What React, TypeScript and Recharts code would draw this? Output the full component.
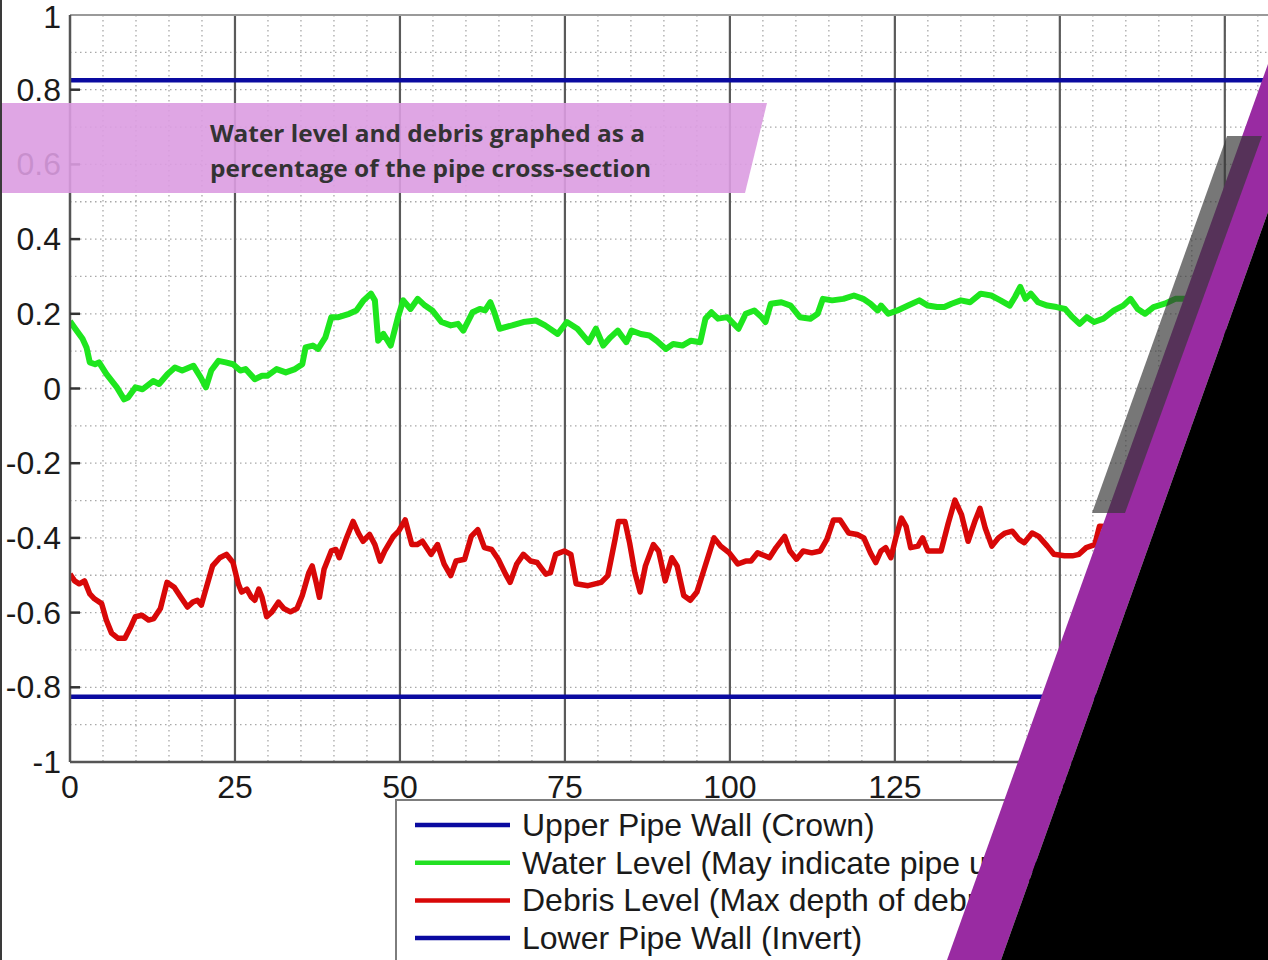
import React from 'react';
import { LineChart, Line, XAxis, YAxis, CartesianGrid, ReferenceLine } from 'recharts';

// [distance, level]
const WATER_LEVEL: [number, number][] = [
  [0, 0.18], [0.8, 0.16], [1.9, 0.133], [2.5, 0.11], [3, 0.07], [3.8, 0.065], [4.4, 0.07], [5.5, 0.039],
  [7.1, 0.003], [8.2, -0.029], [8.8, -0.024], [9.9, 0.003], [11, -0.002], [12.6, 0.02], [13.5, 0.012],
  [14.8, 0.039], [15.9, 0.056], [17, 0.048], [18.7, 0.061], [19.8, 0.03], [20.6, 0.003], [21.4, 0.048],
  [22.5, 0.074], [23.6, 0.07], [24.7, 0.065], [25.8, 0.048], [26.6, 0.052], [28, 0.025], [29.1, 0.034],
  [29.9, 0.034], [31.3, 0.052], [32.7, 0.043], [34.1, 0.052], [35.2, 0.065], [35.7, 0.11], [36.8, 0.115],
  [37.6, 0.106], [38.7, 0.137], [39.6, 0.191], [40.7, 0.191], [42.3, 0.2], [43.4, 0.209], [44.5, 0.236],
  [45.6, 0.254], [46.2, 0.236], [46.7, 0.128], [47.5, 0.146], [48.6, 0.115], [49.7, 0.191], [50.5, 0.236],
  [51.6, 0.213], [52.7, 0.24], [53.8, 0.222], [54.9, 0.209], [56.3, 0.178], [57.7, 0.169], [58.8, 0.173],
  [59.6, 0.155], [61, 0.204], [62.1, 0.213], [62.9, 0.209], [63.7, 0.231], [64.3, 0.204], [65.1, 0.16],
  [67, 0.169], [68.7, 0.178], [70.6, 0.182], [72, 0.169], [73.9, 0.146], [75.3, 0.178], [76.9, 0.16],
  [78.6, 0.124], [79.7, 0.16], [80.8, 0.115], [81.9, 0.137], [83, 0.155], [84.3, 0.124], [85.1, 0.155],
  [86.5, 0.146], [87.8, 0.142], [88.9, 0.128], [90.3, 0.106], [91.4, 0.119], [92.8, 0.115], [94.1, 0.128],
  [95.5, 0.124], [96.3, 0.187], [97.2, 0.204], [98.2, 0.187], [99.6, 0.191], [101.3, 0.16], [102.4, 0.2],
  [103.7, 0.209], [104.8, 0.191], [105.4, 0.178], [106.2, 0.227], [107.8, 0.231], [109.2, 0.222],
  [110.6, 0.191], [112.2, 0.187], [113.3, 0.2], [114.1, 0.24], [115.5, 0.236], [117.2, 0.24], [118.8, 0.249],
  [120.2, 0.24], [121.3, 0.227], [122.4, 0.209], [122.9, 0.222], [124, 0.2], [125.4, 0.209], [127, 0.222],
  [128.7, 0.236], [130, 0.222], [131.4, 0.218], [132.5, 0.218], [133.6, 0.227], [135, 0.236], [136.4, 0.231],
  [138, 0.254], [139.6, 0.249], [141, 0.236], [142.4, 0.222], [143.2, 0.245], [144, 0.272], [144.8, 0.24],
  [145.6, 0.254], [146.7, 0.231], [148.1, 0.222], [149.5, 0.218], [150.8, 0.213], [151.9, 0.191],
  [153, 0.173], [154.1, 0.191], [155.2, 0.178], [156.6, 0.187], [158.2, 0.209], [159.6, 0.222],
  [160.7, 0.24], [161.8, 0.213], [162.9, 0.2], [164.2, 0.218], [165.9, 0.227], [167.5, 0.24], [170, 0.24],
];

const DEBRIS_LEVEL: [number, number][] = [
  [0, -0.497], [0.7, -0.515], [1.4, -0.523], [2.2, -0.515], [3, -0.55], [3.7, -0.563], [4.8, -0.576],
  [5.5, -0.62], [6.3, -0.655], [7.3, -0.669], [8.3, -0.669], [9.1, -0.642], [9.9, -0.611], [10.9, -0.607],
  [11.9, -0.62], [12.7, -0.616], [13.7, -0.589], [14.7, -0.519], [15.8, -0.532], [16.8, -0.559],
  [17.8, -0.585], [18.6, -0.572], [19.3, -0.567], [19.9, -0.58], [20.6, -0.537], [21.6, -0.475],
  [22.7, -0.453], [23.7, -0.444], [24.7, -0.466], [25.5, -0.523], [26, -0.545], [26.8, -0.537],
  [27.5, -0.559], [28, -0.567], [28.6, -0.537], [29.1, -0.559], [29.8, -0.611], [30.6, -0.598],
  [31.6, -0.572], [32.4, -0.589], [33.4, -0.598], [34.4, -0.589], [35.2, -0.554], [36.2, -0.493],
  [36.7, -0.475], [37.3, -0.519], [37.8, -0.559], [38.5, -0.484], [39.6, -0.435], [40.3, -0.431],
  [40.8, -0.453], [41.9, -0.4], [42.9, -0.356], [43.7, -0.387], [44.4, -0.409], [45.4, -0.391],
  [46.2, -0.418], [47, -0.462], [47.7, -0.435], [49, -0.396], [49.8, -0.382], [50.8, -0.352],
  [51.8, -0.418], [52.6, -0.418], [53.4, -0.409], [54.7, -0.444], [55.7, -0.418], [56.7, -0.47],
  [57.7, -0.501], [58.5, -0.462], [59.8, -0.457], [60.8, -0.396], [61.8, -0.378], [62.8, -0.426],
  [63.9, -0.431], [64.9, -0.457], [66, -0.497], [66.7, -0.519], [67.7, -0.47], [68.7, -0.444],
  [69.8, -0.462], [70.8, -0.466], [72.1, -0.497], [72.8, -0.493], [73.6, -0.444], [74.9, -0.435],
  [75.9, -0.444], [76.7, -0.523], [78.5, -0.528], [80.5, -0.519], [81.5, -0.501], [82.6, -0.404],
  [83.1, -0.356], [84.1, -0.356], [84.8, -0.413], [85.6, -0.493], [86.4, -0.545], [87.2, -0.475],
  [88.4, -0.418], [89.2, -0.435], [90.2, -0.515], [91.2, -0.453], [92, -0.475], [93, -0.554],
  [94, -0.567], [95, -0.545], [96.1, -0.484], [97.6, -0.4], [98.6, -0.422], [99.9, -0.44], [101.2, -0.47],
  [102.4, -0.462], [103.2, -0.462], [104.2, -0.44], [105.3, -0.448], [106, -0.453], [107, -0.426],
  [108.3, -0.396], [109.1, -0.435], [110.1, -0.457], [111.1, -0.435], [112.4, -0.44], [113.7, -0.435],
  [114.7, -0.404], [115.7, -0.352], [116.7, -0.352], [118, -0.387], [119.3, -0.391], [120.3, -0.4],
  [121.3, -0.44], [122.1, -0.466], [122.9, -0.435], [123.6, -0.426], [124.4, -0.453], [125.2, -0.396],
  [126, -0.347], [126.7, -0.369], [127.4, -0.426], [128.5, -0.422], [129.2, -0.4], [130, -0.435],
  [131, -0.435], [132, -0.435], [133.1, -0.36], [134.1, -0.299], [135.1, -0.338], [136.1, -0.409],
  [137.2, -0.352], [137.9, -0.321], [138.7, -0.374], [139.7, -0.422], [140.7, -0.4], [141.7, -0.387],
  [142.8, -0.382], [143.8, -0.404], [144.6, -0.413], [145.8, -0.387], [146.8, -0.396], [148.1, -0.422],
  [149.1, -0.444], [150.7, -0.448], [151.9, -0.448], [152.9, -0.444], [154, -0.426], [155.3, -0.418],
  [156, -0.369], [158, -0.37],
];

const CROWN = 0.825;
const INVERT = -0.825;
const WALL_SPAN = [0, 182];

const X_TICKS = Array.from({ length: 37 }, (_, i) => i * 5);
const X_MAJOR = [25, 50, 75, 100, 125, 150, 175];
const Y_TICKS = [-1, -0.9, -0.8, -0.7, -0.6, -0.5, -0.4, -0.3, -0.2, -0.1, 0, 0.1, 0.2, 0.3, 0.4, 0.5, 0.6, 0.7, 0.8, 0.9, 1];

const LEGEND_ITEMS = [
  { label: 'Upper Pipe Wall (Crown)', color: '#0a0aa0' },
  { label: 'Water Level (May indicate pipe usage)', color: '#22e022' },
  { label: 'Debris Level (Max depth of debris)', color: '#d80808' },
  { label: 'Lower Pipe Wall (Invert)', color: '#0a0aa0' },
];

const toPoints = (rows: [number, number][]) => rows.map(([x, v]) => ({ x, v }));
const wallPoints = (v: number) => WALL_SPAN.map((x) => ({ x, v }));

const PLOT_LEFT = 70;
const AXIS_FONT = '"Liberation Sans", Arial, sans-serif';

const YTick = ({ x, y, payload }: any) => {
  const v = payload.value as number;
  const tenth = Math.round(v * 10);
  if (tenth % 2 !== 0) return <g />;
  const label = tenth === 0 ? '0' : Math.abs(tenth) === 10 ? String(tenth / 10) : (tenth / 10).toFixed(1);
  return (
    <g>
      {Math.abs(tenth) !== 10 && (
        <line x1={PLOT_LEFT} x2={PLOT_LEFT + 10} y1={y} y2={y} stroke="#333" strokeWidth={2.5} />
      )}
      <text x={x} y={y} dy={tenth === 10 ? 13 : 11} textAnchor="end" fontFamily={AXIS_FONT} fontSize={32} fill="#1a1a1a">
        {label}
      </text>
    </g>
  );
};

const XTick = ({ x, y, payload }: any) => {
  const v = payload.value as number;
  if (v % 25 !== 0) return <g />;
  return (
    <text x={x} y={y} dy={36} textAnchor="middle" fontFamily={AXIS_FONT} fontSize={32} fill="#1a1a1a">
      {v}
    </text>
  );
};

const LegendBox = () => (
  <svg width={720} height={170} style={{ display: 'block' }}>
    <rect x={1} y={1} width={718} height={200} fill="#fff" stroke="#7d7d7d" strokeWidth={2} />
    {LEGEND_ITEMS.map((item, i) => {
      const cy = 26 + i * 37.7;
      return (
        <g key={item.label}>
          <line x1={20} x2={115} y1={cy} y2={cy} stroke={item.color} strokeWidth={4.5} />
          <text x={127} y={cy} dy={11} fontFamily={AXIS_FONT} fontSize={32} fill="#1a1a1a">
            {item.label}
          </text>
        </g>
      );
    })}
  </svg>
);

export default function App() {
  return (
    <div
      style={{
        position: 'absolute',
        left: 0,
        top: 0,
        width: 1268,
        height: 960,
        overflow: 'hidden',
        background: '#fff',
        borderLeft: '2px solid #3a3a3a',
        boxSizing: 'border-box',
      }}
    >
      <div style={{ position: 'absolute', left: -2, top: 0 }}>
        <LineChart width={1290} height={960} margin={{ top: 15, right: 19, bottom: 158, left: 0 }}>
          <CartesianGrid stroke="#a8a8a8" strokeWidth={1.3} strokeDasharray="1.5 3.5" />
          <XAxis
            type="number"
            dataKey="x"
            domain={[0, 182]}
            ticks={X_TICKS}
            interval={0}
            allowDataOverflow
            height={40}
            tickSize={0}
            tickMargin={0}
            tick={<XTick />}
            axisLine={{ stroke: '#555', strokeWidth: 2.5 }}
            tickLine={false}
          />
          <YAxis
            type="number"
            dataKey="v"
            domain={[-1, 1]}
            ticks={Y_TICKS}
            interval={0}
            width={70}
            tickSize={0}
            tickMargin={9}
            tick={<YTick />}
            axisLine={{ stroke: '#555', strokeWidth: 2.5 }}
            tickLine={false}
          />
          {X_MAJOR.map((x) => (
            <ReferenceLine key={x} x={x} stroke="#5a5a5a" strokeWidth={2.2} />
          ))}
          <ReferenceLine y={1} stroke="#9a9a9a" strokeWidth={2} />
          <Line data={wallPoints(CROWN)} dataKey="v" type="linear" stroke="#0a0aa0" strokeWidth={4.5} dot={false} isAnimationActive={false} />
          <Line data={toPoints(WATER_LEVEL)} dataKey="v" type="linear" stroke="#1ee61e" strokeWidth={6} strokeLinejoin="round" dot={false} isAnimationActive={false} />
          <Line data={toPoints(DEBRIS_LEVEL)} dataKey="v" type="linear" stroke="#d80808" strokeWidth={5.5} strokeLinejoin="round" dot={false} isAnimationActive={false} />
          <Line data={wallPoints(INVERT)} dataKey="v" type="linear" stroke="#0a0aa0" strokeWidth={4.5} dot={false} isAnimationActive={false} />
        </LineChart>
      </div>

      <div style={{ position: 'absolute', left: 393, top: 799 }}>
        <LegendBox />
      </div>

      <svg
        width={1268}
        height={960}
        style={{ position: 'absolute', left: -2, top: 0, pointerEvents: 'none' }}
      >
        <polygon points="0,103 767,103 745,193 0,193" fill="rgba(220,156,225,0.9)" />
        <text x={210} y={142} textLength={435} lengthAdjust="spacingAndGlyphs" fontFamily="'Open Sans', Lato, sans-serif" fontWeight={700} fontSize={23} fill="#333">
          Water level and debris graphed as a
        </text>
        <text x={210} y={177} textLength={441} lengthAdjust="spacingAndGlyphs" fontFamily="'Open Sans', Lato, sans-serif" fontWeight={700} fontSize={23} fill="#333">
          percentage of the pipe cross-section
        </text>
        <polygon points="1268,64 947,960 1001,960 1268,212" fill="#992ba2" />
        <polygon points="1268,212 1001,960 1268,960" fill="#000" />
        <polygon points="1227,136 1262,136 1125,513 1092,513" fill="rgba(55,55,55,0.68)" />
      </svg>
    </div>
  );
}
